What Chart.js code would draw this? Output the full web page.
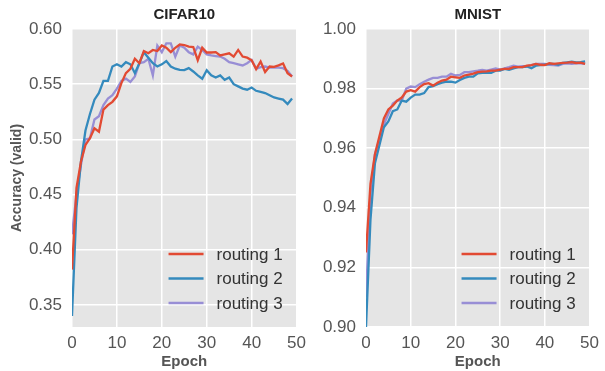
<!DOCTYPE html>
<html>
<head>
<meta charset="utf-8">
<script src="https://cdn.jsdelivr.net/npm/chart.js@4.4.1/dist/chart.umd.min.js"></script>
<style>
  body { margin: 0; background: #fff; }
  #wrap { position: relative; width: 605px; height: 371px; }
  canvas { position: absolute; top: 0; }
</style>
</head>
<body>
<div id="wrap">
  <canvas id="cifar" width="312" height="371" style="left:0"></canvas>
  <canvas id="mnist" width="293" height="371" style="left:312px"></canvas>
</div>
<script>
const epochs = Array.from({length: 50}, (_, i) => i)
const seriesNames = ["routing 1", "routing 2", "routing 3"]
const colors = ["#E24A33", "#348ABD", "#988ED5"]

const cifarR1 = [0.382,0.456,0.480,0.495,0.501,0.510,0.507,0.527,0.531,0.534,0.539,0.551,0.560,0.564,0.573,0.569,0.580,0.578,0.581,0.580,
  0.585,0.583,0.579,0.583,0.586,0.5855,0.584,0.5837,0.5717,0.583,0.5787,0.5787,0.579,0.576,0.577,0.578,0.575,0.581,0.575,0.574,
  0.5717,0.5637,0.5705,0.561,0.566,0.5657,0.567,0.5687,0.560,0.557]
const cifarR2 = [0.340,0.438,0.480,0.508,0.523,0.536,0.542,0.553,0.553,0.566,0.568,0.566,0.570,0.568,0.560,0.569,0.579,0.574,0.569,0.566,
  0.568,0.571,0.566,0.564,0.563,0.5627,0.5645,0.5615,0.558,0.555,0.5627,0.558,0.556,0.558,0.554,0.556,0.550,0.548,0.546,0.545,
  0.547,0.544,0.543,0.542,0.540,0.538,0.537,0.536,0.532,0.537]
const cifarR3 = [0.414,0.450,0.477,0.500,0.501,0.518,0.521,0.531,0.537,0.540,0.546,0.553,0.555,0.552,0.557,0.569,0.570,0.573,0.558,0.585,
  0.579,0.587,0.587,0.575,0.585,0.583,0.579,0.577,0.584,0.581,0.577,0.576,0.5755,0.575,0.573,0.570,0.569,0.568,0.567,0.569,
  0.572,0.564,0.5655,0.566,0.565,0.565,0.565,0.5645,0.562,0.557]

const mnistR1 = [0.925,0.948,0.958,0.964,0.970,0.973,0.9743,0.976,0.977,0.979,0.9795,0.979,0.9805,0.9815,0.9818,0.981,0.982,0.9827,0.983,0.984,
  0.9838,0.9836,0.9844,0.9847,0.985,0.9855,0.9857,0.9858,0.986,0.986,0.9864,0.9866,0.9866,0.9872,0.9872,0.9872,0.9877,0.9879,0.9883,0.988,
  0.9879,0.9885,0.9883,0.9885,0.9886,0.9887,0.9889,0.9886,0.9887,0.9883]
const mnistR2 = [0.900,0.936,0.955,0.961,0.967,0.969,0.9724,0.973,0.976,0.9756,0.977,0.978,0.978,0.9785,0.9805,0.9808,0.9815,0.982,0.9823,0.9823,
  0.982,0.9829,0.9836,0.984,0.984,0.9851,0.9853,0.9853,0.9853,0.986,0.986,0.9866,0.9863,0.9868,0.9872,0.9872,0.9874,0.9868,0.9877,0.9879,
  0.988,0.9883,0.9883,0.988,0.9886,0.9888,0.989,0.9888,0.9889,0.9891]
const mnistR3 = [0.910,0.945,0.958,0.963,0.968,0.9715,0.975,0.976,0.976,0.980,0.9807,0.9805,0.9815,0.9823,0.983,0.9836,0.9836,0.984,0.984,0.985,
  0.9844,0.9846,0.9855,0.9855,0.9858,0.986,0.9863,0.986,0.9864,0.9868,0.9864,0.9868,0.9872,0.9877,0.9874,0.9875,0.9875,0.9879,0.9883,0.9883,
  0.9883,0.988,0.9879,0.9877,0.9883,0.9885,0.9883,0.9885,0.9885,0.9883]

const xTicks = [0, 10, 20, 30, 40, 50]
const cifarTicks = [0.35, 0.40, 0.45, 0.50, 0.55, 0.60]
const mnistTicks = [0.90, 0.92, 0.94, 0.96, 0.98, 1.00]

Chart.defaults.font.family = "'Liberation Sans', Arial, sans-serif"
Chart.defaults.color = "#555"

// grey panel, title above, legend in the lower right corner
const ggplot = (title) => ({
  id: "ggplot",
  beforeDraw(chart) {
    const {ctx, chartArea: {left, top, width, height}} = chart
    ctx.save()
    ctx.fillStyle = "#E5E5E5"
    ctx.fillRect(left, top, width, height)
    ctx.restore()
  },
  afterDatasetsDraw(chart) {
    const {ctx, chartArea: {left, right, bottom}} = chart
    ctx.save()
    ctx.font = "bold 15px 'Liberation Sans', Arial, sans-serif"
    ctx.fillStyle = "#222"
    ctx.textAlign = "center"
    ctx.textBaseline = "middle"
    ctx.fillText(title, (left + right) / 2, 15)

    ctx.font = "17px 'Liberation Sans', Arial, sans-serif"
    ctx.textAlign = "left"
    chart.data.datasets.forEach((ds, i) => {
      const y = bottom - 73 + i * 24.5
      ctx.strokeStyle = ds.borderColor
      ctx.lineWidth = 2.3
      ctx.beginPath()
      ctx.moveTo(right - 128, y)
      ctx.lineTo(right - 93, y)
      ctx.stroke()
      ctx.fillStyle = "#333"
      ctx.fillText(ds.label, right - 80, y + 1)
    })
    ctx.restore()
  }
})

const makeConfig = (title, series, yTicks, yMin, yMax, yWidth, padRight, yTitle) => ({
  type: "line",
  data: {
    datasets: series.map((vals, i) => ({
      label: seriesNames[i],
      data: epochs.map((e, j) => ({x: e, y: vals[j]})),
      borderColor: colors[i],
      borderWidth: 2.3,
      pointRadius: 0,
      tension: 0
    }))
  },
  options: {
    responsive: false,
    animation: false,
    devicePixelRatio: 1,
    layout: {padding: {top: 29, right: padRight, left: 0, bottom: 0}},
    plugins: {legend: {display: false}, tooltip: {enabled: false}},
    scales: {
      x: {
        type: "linear",
        min: 0, max: 50,
        afterFit: (s) => { s.height = 44 },
        afterBuildTicks: (s) => { s.ticks = xTicks.map(v => ({value: v})) },
        grid: {color: "#fff", lineWidth: 1.5, drawTicks: false},
        border: {display: false},
        ticks: {padding: 6, font: {size: 17}, color: "#555"},
        title: {display: true, text: "Epoch", font: {size: 15, weight: "bold"}, color: "#555", padding: 0}
      },
      y: {
        min: yMin, max: yMax,
        afterFit: (s) => { s.width = yWidth },
        afterBuildTicks: (s) => { s.ticks = yTicks.map(v => ({value: v})) },
        grid: {color: "#fff", lineWidth: 1.5, drawTicks: false},
        border: {display: false},
        ticks: {padding: 10, font: {size: 17}, color: "#555", callback: (v) => v.toFixed(2)},
        title: {display: !!yTitle, text: yTitle, font: {size: 14, weight: "bold"}, color: "#555", padding: 9}
      }
    }
  },
  plugins: [ggplot(title)]
})

new Chart(document.getElementById("cifar"),
  makeConfig("CIFAR10", [cifarR1, cifarR2, cifarR3], cifarTicks, 0.33, 0.60, 72, 14, "Accuracy (valid)"))
new Chart(document.getElementById("mnist"),
  makeConfig("MNIST", [mnistR1, mnistR2, mnistR3], mnistTicks, 0.90, 1.00, 54, 12, ""))
</script>
</body>
</html>
